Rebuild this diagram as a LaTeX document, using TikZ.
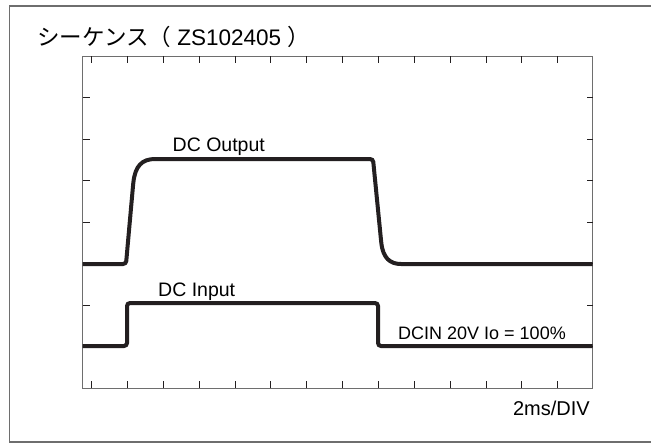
\documentclass[tikz,border=0pt]{standalone}
\usepackage{fontspec}
\setmainfont{Liberation Sans}
\newfontfamily\jpfont{Noto Sans CJK JP}
\usepackage{tikz}

\definecolor{trace}{HTML}{231F20}
\definecolor{frame}{HTML}{6E6E6E}

\begin{document}
\begin{tikzpicture}[x=1pt,y=-1pt] % coordinates in pixels, y down
\useasboundingbox (0,0) rectangle (651,445);

% outer frame (right side is cut off)
\draw[frame, line width=1.5pt] (652,6) -- (9.5,6) -- (9.5,442) -- (652,442);

% plot box
\draw[frame, line width=1pt] (82.7,56) rectangle (592.7,388);
\foreach \x in {0,1,...,13} {
\draw[trace, line width=1pt] (91.7+35.85*\x,56) -- (91.7+35.85*\x,63);
\draw[trace, line width=1pt] (91.7+35.85*\x,388) -- (91.7+35.85*\x,381);
}
\foreach \y in {1,2,...,7} {
\draw[trace, line width=1pt] (82.7,56+41.5*\y) -- (89.7,56+41.5*\y);
\draw[trace, line width=1pt] (592.7,56+41.5*\y) -- (586.7,56+41.5*\y);
}

% texts
\node[anchor=base west, inner sep=0pt] (title) at (37,45)
  {\fontsize{22.5}{26}\selectfont{\jpfont シーケンス（} ZS102405 {\jpfont ）}};
\node[anchor=base west, inner sep=0pt] (outlabel) at (172.5,151)
  {\fontsize{19.5}{23}\selectfont DC Output};
\node[anchor=base west, inner sep=0pt] (inlabel) at (158,296)
  {\fontsize{19.5}{23}\selectfont DC Input};
\node[anchor=base west, inner sep=0pt] (cond) at (398,339)
  {\fontsize{18}{22}\selectfont DCIN 20V Io = 100\%};
\node[anchor=base east, inner sep=0pt] (div) at (590,415)
  {\fontsize{20}{24}\selectfont 2ms/DIV};

% DC Output
\draw[trace, line width=4pt, rounded corners=3pt] (82.7,264) -- (126,264) -- (133,186)
  .. controls (135,166) and (142,159) .. (158,159) -- (373,159) -- (381,240)
  .. controls (383,258) and (390,264) .. (404,264) -- (592.7,264);

% DC Input
\draw[trace, line width=4pt, rounded corners=3pt] (82.7,346) -- (127,346) -- (127,303)
  -- (378,303) -- (378,346) -- (592.7,346);

\end{tikzpicture}
\end{document}
